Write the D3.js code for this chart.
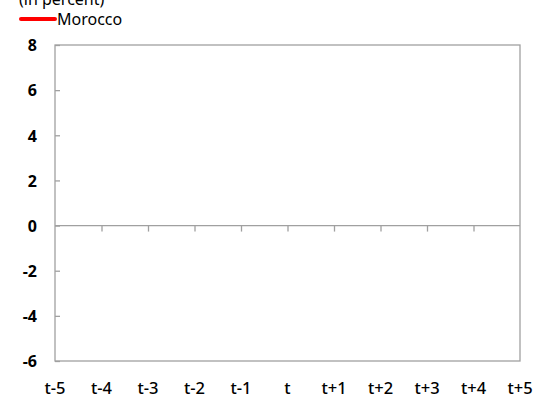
<!DOCTYPE html>
<html>
<head>
<meta charset="utf-8">
<script src="https://cdn.jsdelivr.net/npm/d3@7"></script>
<style>
body{margin:0;background:#fff;}
svg{display:block;}
text{font-family:"Noto Sans","Liberation Sans",Arial,sans-serif;}
</style>
</head>
<body>
<svg id="c" width="536" height="399"></svg>
<script>
const categories = ["t-5","t-4","t-3","t-2","t-1","t","t+1","t+2","t+3","t+4","t+5"];
const seriesName = "Morocco";
const moroccoValues = [null,null,null,null,null,null,null,null,null,null,null];
const yTicks = [8,6,4,2,0,-2,-4,-6];
const unitLabel = "(in percent)";

const svg = d3.select("#c");
const m = {l:55, r:520, t:45, b:361};
const x = d3.scalePoint().domain(categories).range([m.l, m.r]);
const y = d3.scaleLinear().domain([-6, 8]).range([m.b, m.t]);
const grey = "#a0a0a0";

// frame
svg.append("rect").attr("x", m.l).attr("y", m.t).attr("width", m.r - m.l).attr("height", m.b - m.t)
  .attr("fill", "none").attr("stroke", grey).attr("stroke-width", 1.3);

// y axis: inward ticks + labels
const yAxis = d3.axisRight(y).tickValues(yTicks).tickSize(5).tickFormat(d => String(d));
const gy = svg.append("g").attr("transform", `translate(${m.l},0)`).call(yAxis);
gy.select(".domain").remove();
gy.selectAll(".tick line").attr("stroke", grey).attr("stroke-width", 1.3);
gy.selectAll(".tick text").attr("x", -18).attr("text-anchor", "end")
  .attr("font-family", "'Liberation Sans', Arial, sans-serif")
  .attr("font-size", 16).attr("font-weight", "bold").attr("fill", "#000").attr("dy", "0.36em");

// zero axis with ticks
const xAxis = d3.axisBottom(x).tickSize(6).tickFormat("");
const gx = svg.append("g").attr("transform", `translate(0,${y(0)})`).call(xAxis);
gx.select(".domain").attr("stroke", grey).attr("stroke-width", 1.3).attr("d", `M${m.l},0H${m.r}`);
gx.selectAll(".tick line").attr("stroke", grey).attr("stroke-width", 1.3);
gx.selectAll(".tick").filter((d,i) => i === 0 || i === categories.length - 1).remove();

// category labels
svg.append("g").selectAll("text").data(categories).join("text")
  .attr("x", d => x(d)).attr("y", 394).attr("text-anchor", "middle")
  .attr("font-size", 16.5).attr("font-weight", 500).attr("fill", "#000").text(d => d);

// series line
const line = d3.line().defined(d => d.v != null).x(d => x(d.c)).y(d => y(d.v));
svg.append("path").datum(categories.map((c,i) => ({c, v: moroccoValues[i]})))
  .attr("d", line).attr("fill", "none").attr("stroke", "#ff0000").attr("stroke-width", 3.5);

// legend
svg.append("text").attr("x", 19).attr("y", 5).attr("font-size", 16).attr("fill", "#000").text(unitLabel);
svg.append("line").attr("x1", 21).attr("x2", 55).attr("y1", 19).attr("y2", 19)
  .attr("stroke", "#ff0000").attr("stroke-width", 4).attr("stroke-linecap", "round");
svg.append("text").attr("x", 57).attr("y", 24.5).attr("font-size", 16).attr("fill", "#000").text(seriesName);
</script>
</body>
</html>
